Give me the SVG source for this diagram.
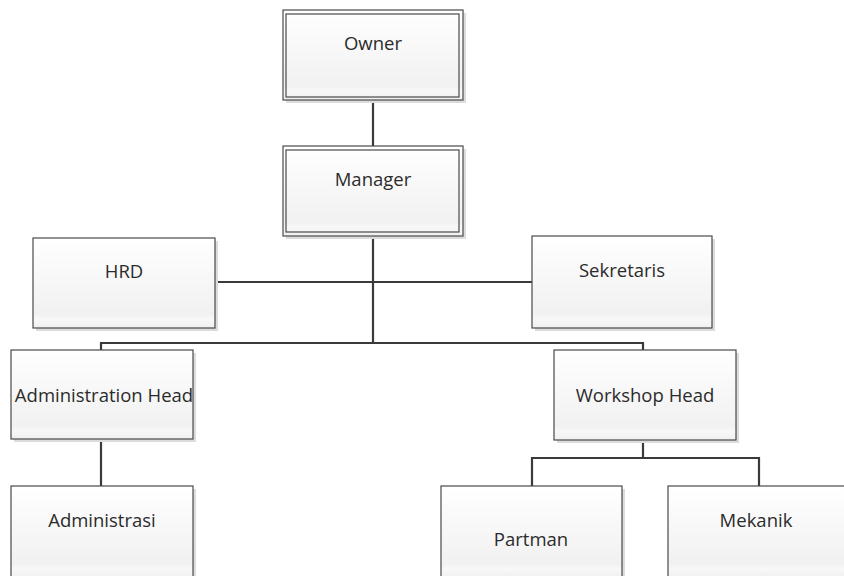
<svg xmlns="http://www.w3.org/2000/svg" width="844" height="576" viewBox="0 0 844 576">
  <defs>
    <linearGradient id="fill" x1="0" y1="0" x2="0" y2="1">
      <stop offset="0" stop-color="#ffffff"/>
      <stop offset="0.85" stop-color="#f1f1f1"/>
      <stop offset="0.9" stop-color="#f8f8f8"/>
      <stop offset="1" stop-color="#f0f0f0"/>
    </linearGradient>
    <clipPath id="clipAdm">
      <rect x="11" y="350" width="182" height="89"/>
    </clipPath>
  </defs>
  <style>
    .shadow { fill: #dcdcdc; stroke: none; }
    .box { fill: url(#fill); stroke: #4a4a4a; stroke-width: 1.2; }
    .inner { fill: none; stroke: #4a4a4a; stroke-width: 1.2; }
    .label { font-family: "Open Sans", "Liberation Sans", sans-serif; font-size: 18.5px; fill: #2b2b2b; text-anchor: middle; }
    .conn { fill: none; stroke: #3a3a3a; stroke-width: 2.2; }
  </style>
  <rect x="0" y="0" width="844" height="576" fill="#ffffff"/>

  <g id="connectors">
    <path class="conn" d="M373 100 V146"/>
    <path class="conn" d="M373 236 V343"/>
    <path class="conn" d="M215 282 H532"/>
    <path class="conn" d="M101 350 V343 H643 V350"/>
    <path class="conn" d="M101 439 V486"/>
    <path class="conn" d="M643 440 V458"/>
    <path class="conn" d="M532 486 V458 H759 V486"/>
  </g>

  <g id="owner">
    <rect class="shadow" x="286" y="13" width="180" height="90"/>
    <rect class="box" x="283" y="10" width="180" height="90"/>
    <rect class="inner" x="286" y="14" width="173" height="83"/>
    <text class="label" x="373" y="50">Owner</text>
  </g>

  <g id="manager">
    <rect class="shadow" x="286" y="149" width="180" height="90"/>
    <rect class="box" x="283" y="146" width="180" height="90"/>
    <rect class="inner" x="286" y="150" width="173" height="82"/>
    <text class="label" x="373" y="186">Manager</text>
  </g>

  <g id="hrd">
    <rect class="shadow" x="36" y="241" width="182" height="90"/>
    <rect class="box" x="33" y="238" width="182" height="90"/>
    <text class="label" x="124" y="278">HRD</text>
  </g>

  <g id="sekretaris">
    <rect class="shadow" x="535" y="239" width="180" height="92"/>
    <rect class="box" x="532" y="236" width="180" height="92"/>
    <text class="label" x="622" y="277">Sekretaris</text>
  </g>

  <g id="administration-head">
    <rect class="shadow" x="14" y="353" width="182" height="89"/>
    <rect class="box" x="11" y="350" width="182" height="89"/>
    <text class="label" x="104" y="402" clip-path="url(#clipAdm)">Administration Head</text>
  </g>

  <g id="workshop-head">
    <rect class="shadow" x="557" y="353" width="182" height="90"/>
    <rect class="box" x="554" y="350" width="182" height="90"/>
    <text class="label" x="645" y="402">Workshop Head</text>
  </g>

  <g id="administrasi">
    <rect class="shadow" x="14" y="489" width="182" height="92"/>
    <rect class="box" x="11" y="486" width="182" height="92"/>
    <text class="label" x="102" y="527">Administrasi</text>
  </g>

  <g id="partman">
    <rect class="shadow" x="444" y="489" width="181" height="92"/>
    <rect class="box" x="441" y="486" width="181" height="92"/>
    <text class="label" x="531" y="546">Partman</text>
  </g>

  <g id="mekanik">
    <rect class="shadow" x="671" y="489" width="181" height="92"/>
    <rect class="box" x="668" y="486" width="181" height="92"/>
    <text class="label" x="756" y="527">Mekanik</text>
  </g>
</svg>
